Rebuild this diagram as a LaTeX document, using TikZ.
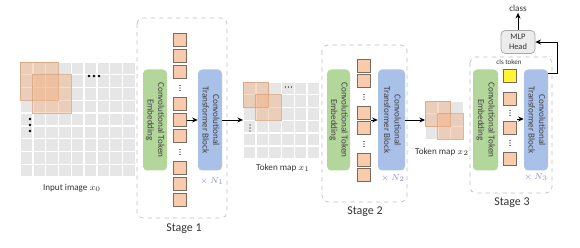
\documentclass[tikz,border=0pt]{standalone}
\usepackage{fontspec}
\setmainfont{Carlito}
\usepackage{tikz}
\usetikzlibrary{
  arrows.meta,  % Stealth 箭头
  positioning   % 节点相对定位
}

\definecolor{cellgray}{HTML}{E6E6E6}
\definecolor{patchorg}{HTML}{F2B183}
\definecolor{tokfill}{HTML}{F8CBAD}
\definecolor{tokline}{HTML}{7A6A5E}
\definecolor{embgreen}{HTML}{B3D69B}
\definecolor{blkblue}{HTML}{A9C0E8}
\definecolor{nblue}{HTML}{8C8CD6}

% 竖排文字（顺时针旋转）
\newcommand{\vlabel}[1]{\rotatebox{-90}{\begin{tabular}{@{}c@{}}#1\end{tabular}}}

\begin{document}
\begin{tikzpicture}[x=0.025cm, y=-0.025cm, >={Stealth[length=4pt,width=3.6pt]},
  cell/.style={fill=cellgray},
  patch/.style={fill=patchorg, fill opacity=0.45, draw=patchorg!85!black,
    draw opacity=0.7, line width=0.5pt},
  token/.style={draw=tokline, fill=tokfill, line width=0.5pt,
    minimum size=13*0.025cm, inner sep=0pt},
  clstoken/.style={token, fill=yellow!80!white},
  stagebox/.style={draw=gray!50, dashed, rounded corners=4pt, line width=0.5pt},
  embbox/.style={fill=embgreen, rounded corners=3pt, inner sep=0pt,
    minimum width=24*0.025cm, minimum height=101*0.025cm, text=black!75,
    font=\fontsize{6.5}{7.5}\selectfont},
  ctbbox/.style={embbox, fill=blkblue},
  lbl/.style={font=\fontsize{6.5}{8}\selectfont, text=black!80, inner sep=1pt},
  stagelbl/.style={font=\fontsize{8.5}{10}\selectfont, text=black!80},
  rep/.style={font=\fontsize{6}{7}\selectfont, text=nblue},
  conn/.style={->, line width=0.7pt}
]
  \useasboundingbox (0,0) rectangle (580,248);

  % 输入图像 x0：9x9 网格
  \foreach \i in {0,...,8}
    \foreach \j in {0,...,8}
      \fill[cell] (20.7+\i*12.8, 62.7+\j*12.8) rectangle ++(11.4,11.4);
  \filldraw[patch] (20,62) rectangle (58.4,100.4);
  \filldraw[patch] (32.8,74.8) rectangle (71.2,113.2);
  \foreach \k in {0,1,2} {
    \fill (89+5*\k,76) circle (1pt);
    \fill (30,119+6*\k) circle (1pt);
  }
  \node[lbl] (in0) at (72,188) {Input image $x_0$};

  % Stage 1
  \draw[stagebox] (137,18) rectangle (227,218);
  \node[embbox] (emb1) at (155,120) {\vlabel{Convolutional Token\\Embedding}};
  \foreach \y [count=\n] in {40,56,72,104,120,136,168,184,200}
    \node[token] (s1t\n) at (180,\y) {};
  \foreach \y in {88,152}
    \foreach \k in {-2.5,0,2.5}
      \fill (180,\y+\k) circle (0.45pt);
  \node[ctbbox] (ctb1) at (210,120) {\vlabel{Convolutional\\Transformer Block}};
  \node[rep] (n1) at (212,181) {$\times\, N_1$};
  \node[stagelbl] (st1) at (184,229) {Stage 1};
  \draw[conn] (s1t5.east) -- (ctb1.west);

  % Token map x1：6x6 网格
  \foreach \i in {0,...,5}
    \foreach \j in {0,...,5}
      \fill[cell] (243.7+\i*12.8, 82.7+\j*12.8) rectangle ++(11.4,11.4);
  \filldraw[patch] (243,82) rectangle (268.6,107.6);
  \filldraw[patch] (255.8,94.8) rectangle (281.4,120.4);
  \foreach \k in {0,1,2} {
    \fill (285.5+3*\k,87) circle (0.5pt);
    \fill (250,125+3*\k) circle (0.5pt);
  }
  \coordinate (map1) at (243,120);
  \node[lbl] (tm1) at (283,168) {Token map $x_1$};
  \draw[conn] (ctb1.east) -- (map1);

  % Stage 2
  \draw[stagebox] (322,45) rectangle (407,202);
  \node[embbox, minimum width=23*0.025cm] (emb2) at (338.5,120) {\vlabel{Convolutional Token\\Embedding}};
  \foreach \y [count=\n] in {66,81,113,128,160,175}
    \node[token] (s2t\n) at (364,\y) {};
  \foreach \y in {97,144}
    \foreach \k in {-2.5,0,2.5}
      \fill (364,\y+\k) circle (0.45pt);
  \node[ctbbox, minimum width=27*0.025cm] (ctb2) at (391.5,120) {\vlabel{Convolutional\\Transformer Block}};
  \node[rep] (n2) at (393,178) {$\times\, N_2$};
  \node[stagelbl] (st2) at (365,212) {Stage 2};
  \coordinate (s2out) at (370.5,120);
  \draw[conn] (s2out) -- (ctb2.west);

  % Token map x2：3x3 网格
  \foreach \i in {0,...,2}
    \foreach \j in {0,...,2}
      \fill[cell] (425.7+\i*12.8, 101.7+\j*12.8) rectangle ++(11.4,11.4);
  \filldraw[patch] (425,101) rectangle (450.6,126.6);
  \filldraw[patch] (437.8,113.8) rectangle (463.4,139.4);
  \coordinate (map2) at (425,120);
  \node[lbl] (tm2) at (442,152) {Token map $x_2$};
  \draw[conn] (ctb2.east) -- (map2);

  % Stage 3
  \draw[stagebox] (470,57) rectangle (552,193);
  \node[embbox, minimum width=25*0.025cm] (emb3) at (485.5,120) {\vlabel{Convolutional Token\\Embedding}};
  \node[clstoken] (s3t1) at (510,75.5) {};
  \foreach \y [count=\n from 2] in {98.5,128,158.5}
    \node[token] (s3t\n) at (510,\y) {};
  \foreach \y in {113,143}
    \foreach \k in {-2.5,0,2.5}
      \fill (510,\y+\k) circle (0.45pt);
  \node[font=\fontsize{5}{6}\selectfont, text=black!80] (cls) at (509,62) {cls token};
  \node[ctbbox] (ctb3) at (536,120) {\vlabel{Convolutional\\Transformer Block}};
  \node[rep] (n3) at (536,177) {$\times\, N_3$};
  \node[stagelbl] (st3) at (512,203) {Stage 3};
  \coordinate (s3out) at (516.5,119);
  \draw[conn] (s3out) -- (s3out -| ctb3.west);

  % MLP Head 与输出
  \node[draw=gray!70, fill=gray!15, rounded corners=3pt, line width=0.5pt,
    minimum width=34*0.025cm, minimum height=23*0.025cm, inner sep=0pt,
    align=center, font=\fontsize{6}{7.5}\selectfont, text=black!80] (mlp) at (518,42) {MLP\\Head};
  \node[lbl] (out) at (518,8) {class};
  \draw[conn] (mlp.north) -- (out.south);
  \draw[conn] ([yshift=-3pt]ctb3.north east) -- ++(9,0) |- (mlp.east);
\end{tikzpicture}
\end{document}
